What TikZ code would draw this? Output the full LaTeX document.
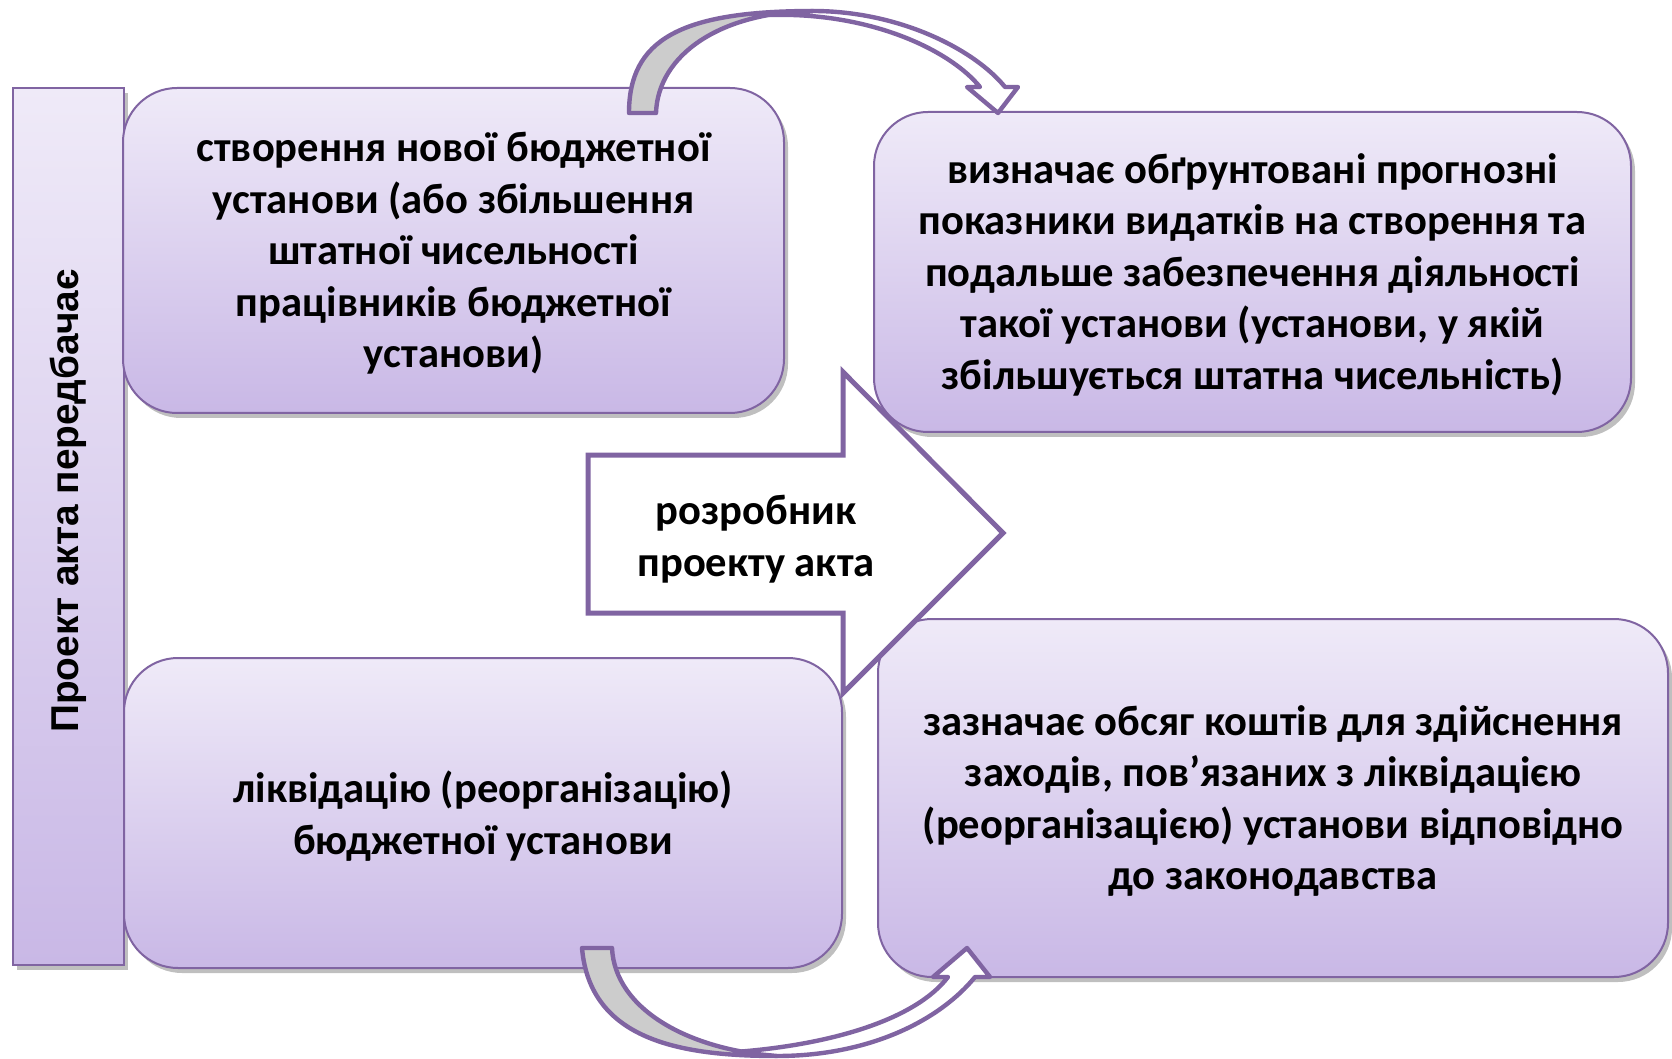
\documentclass[tikz,border=0pt]{standalone}
\usepackage{fontspec}
\setmainfont{Carlito}
\newfontfamily\barfont{Liberation Sans}
\usepackage{tikz}
\usetikzlibrary{calc,shadows}
\definecolor{lila}{RGB}{128,100,162}
\definecolor{lilatop}{RGB}{239,234,248}
\definecolor{lilabot}{RGB}{201,184,230}
\definecolor{backgray}{RGB}{204,204,204}

\begin{document}
\begin{tikzpicture}[x=0.5pt,y=-0.5pt,
  box/.style={draw=lila,line width=1pt,rounded corners=27pt,
    top color=lilatop,bottom color=lilabot,align=center,inner sep=0pt,
    font=\bfseries\fontsize{21.3}{25.75}\selectfont,text depth=0.5pt,
    drop shadow={shadow xshift=2pt,shadow yshift=-2.5pt,fill=black,opacity=0.25}},
  band/.style={draw=lila,line width=2.2pt,line join=round}]
\useasboundingbox (0,0) rectangle (1672,1059);
%%%%

\node[box,rounded corners=0pt,minimum width=55.5pt,minimum height=438.5pt] (bar) at (68.5,526.5)
  {\rotatebox{90}{\hspace{25pt}\barfont\bfseries\fontsize{19.4}{22}\selectfont Проект акта передбачає}};
\node[box,minimum width=330.5pt,minimum height=162.5pt] (create) at (453.5,250.5)
  {створення нової бюджетної\\ установи (або збільшення\\ штатної чисельності\\ працівників бюджетної\\ установи)};
\node[box,minimum width=378.5pt,minimum height=160pt] (costs) at (1252.5,272)
  {визначає обґрунтовані прогнозні\\ показники видатків на створення та\\ подальше забезпечення діяльності\\ такої установи (установи, у якій\\ збільшується штатна чисельність)};
\node[box,minimum width=359pt,minimum height=155pt] (close) at (483,813)
  {ліквідацію (реорганізацію)\\ бюджетної установи};
\node[box,minimum width=395pt,minimum height=179pt] (funds) at (1273,798)
  {зазначає обсяг коштів для здійснення\\ заходів, пов’язаних з ліквідацією\\ (реорганізацією) установи відповідно\\ до законодавства};
%
%Big arrow
\draw[lila,line width=2.5pt,fill=white] (588,455)--(843,455)--(843,372)--(1003,533)
  --(843,693)--(843,613)--(588,613)--cycle;
\node[align=center,font=\bfseries\fontsize{21.3}{25.75}\selectfont] (dev) at (756,539)
  {розробник\\ проекту акта};
%
%%%Upper bent arrow
\filldraw[band,fill=backgray] (629,113) .. controls (629,40) and (680,11) .. (813,11)
  .. controls (720,12) and (658,55) .. (656,113) -- cycle;
\filldraw[band,fill=white] (770,15) .. controls (870,12) and (950,50) .. (980,87)
  -- (967,87) -- (998,113) -- (1018,87) -- (1005,87)
  .. controls (975,50) and (900,11) .. (813,11) -- cycle;
%%%Lower bent arrow
\filldraw[band,fill=backgray] (582,948) .. controls (590,1040) and (680,1056) .. (777,1056)
  .. controls (690,1050) and (615,1010) .. (612,948) -- cycle;
\filldraw[band,fill=white] (735,1052) .. controls (830,1045) and (915,1020) .. (948,977)
  -- (933,977) -- (967,948) -- (990,977) -- (975,977)
  .. controls (940,1020) and (870,1056) .. (777,1056) -- cycle;
\end{tikzpicture}
\end{document}
